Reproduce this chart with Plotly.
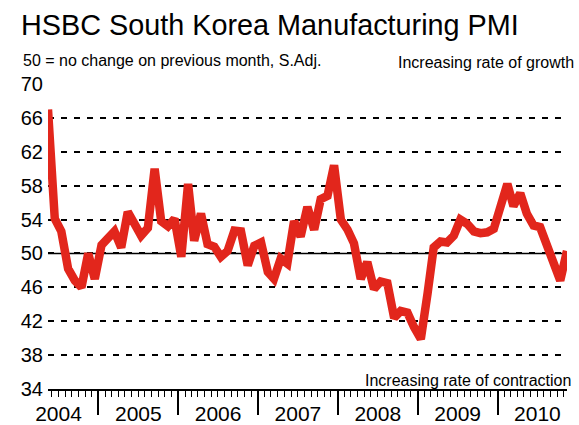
import plotly.graph_objects as go
import pandas as pd

# ---- data -------------------------------------------------------------
start_month = "2004-05"
pmi = [67.0, 54.1, 52.6, 48.2, 46.8, 46.0, 50.0, 47.0, 51.0, 51.9,
       52.6, 50.7, 54.9, 53.5, 52.1, 53.0, 60.0, 53.8, 53.2, 54.1,
       49.6, 58.2, 51.5, 54.7, 51.1, 50.8, 49.6, 50.3, 52.7, 52.6,
       48.6, 50.9, 51.3, 47.8, 47.0, 49.4, 48.8, 53.8, 52.0, 55.5,
       52.8, 56.4, 56.8, 60.4, 54.0, 52.8, 51.2, 47.0, 49.0, 45.8,
       46.7, 46.5, 42.4, 43.2, 43.0, 41.3, 39.9, 45.3, 50.7, 51.4,
       51.3, 52.1, 54.0, 53.5, 52.6, 52.4, 52.5, 52.9, 55.6, 58.2,
       55.6, 57.1, 54.7, 53.3, 53.1, 50.8, 48.5, 46.8, 50.3]
months = pd.date_range(start_month + "-01", periods=len(pmi), freq="MS") + pd.Timedelta(days=14)

y_ticks = [34, 38, 42, 46, 50, 54, 58, 62, 66, 70]
neutral = 50

title = "HSBC South Korea Manufacturing PMI"
subtitle = "50 = no change on previous month, S.Adj."
top_note = "Increasing rate of growth"
bottom_note = "Increasing rate of contraction"

FONT = "Liberation Sans, Arial, Helvetica, sans-serif"
RED = "#E2261C"

L, R, T, B = 48, 12, 84, 36
PW = 579 - L - R
PH = 425 - T - B

fig = go.Figure()
fig.add_trace(go.Scatter(
    x=months, y=pmi, mode="lines",
    line=dict(color=RED, width=8.5, shape="linear"),
    hoverinfo="skip", showlegend=False,
))

fig.add_shape(type="line", xref="paper", x0=0, x1=1, yref="y", y0=neutral, y1=neutral,
              line=dict(color="black", width=1.6), layer="below")

fig.update_layout(
    width=579, height=425,
    margin=dict(l=L, r=R, t=T, b=B, autoexpand=False),
    paper_bgcolor="white", plot_bgcolor="white",
    font=dict(family=FONT, color="black"),
    title=dict(text=title, x=21/579, xanchor="left", xref="container",
               y=1 - 25/425, yanchor="middle", yref="container",
               font=dict(size=28.8, family=FONT, color="black")),
    xaxis=dict(
        type="date",
        range=[months[0], months[-1]],
        automargin=False,
        showgrid=False, zeroline=False,
        showline=True, linecolor="black", linewidth=1.5,
        ticks="outside", ticklen=24, tickwidth=1.5, tickcolor="black",
        dtick="M12", tick0="2004-01-01", tickformat="%Y",
        ticklabelmode="period", ticklabelstandoff=-19,
        tickfont=dict(size=21, family=FONT, color="black"),
        minor=dict(ticks="outside", ticklen=6, tickwidth=1, tickcolor="black",
                   dtick="M1", tick0="2004-01-01", showgrid=False),
        fixedrange=True,
    ),
    yaxis=dict(
        range=[34, 70], tickvals=y_ticks,
        automargin=False,
        showgrid=True, gridcolor="black", gridwidth=1.5, griddash="6px,7px",
        zeroline=False, showline=False, ticks="",
        ticklabelstandoff=4,
        tickfont=dict(size=20, family=FONT, color="black"),
        fixedrange=True,
    ),
    annotations=[
        dict(text=subtitle, xref="paper", yref="paper", x=(21 - L) / PW, y=1 + 24 / PH,
             xanchor="left", yanchor="middle", showarrow=False,
             font=dict(size=16, family=FONT, color="black")),
        dict(text=top_note, xref="paper", yref="paper", x=(396 - L) / PW, y=1 + 21 / PH,
             xanchor="left", yanchor="middle", showarrow=False,
             font=dict(size=16, family=FONT, color="black")),
        dict(text=bottom_note, xref="paper", yref="paper", x=(573 - L) / PW, y=9 / PH,
             xanchor="right", yanchor="middle", showarrow=False,
             font=dict(size=16, family=FONT, color="black")),
    ],
)

fig.write_html("out.html", config={"displayModeBar": False},
               post_script="document.body.style.margin='0';")
